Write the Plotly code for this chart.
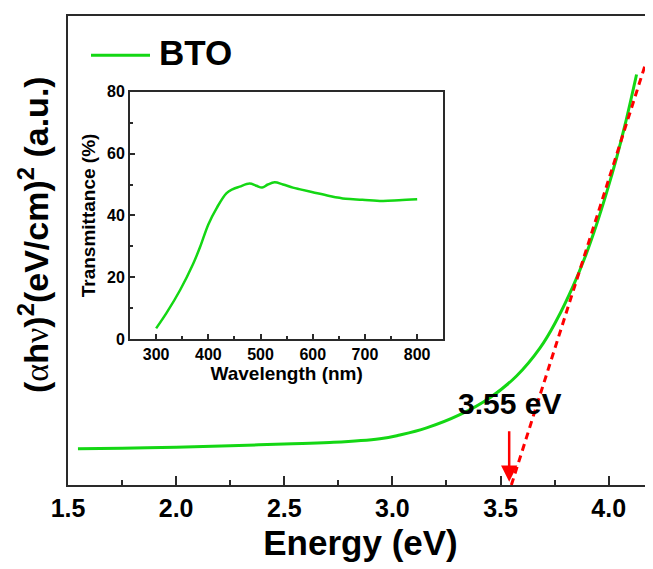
import plotly.graph_objects as go

# Main Tauc plot data
energy = [1.546, 1.75, 2.0, 2.25, 2.5, 2.71, 2.942, 3.035, 3.158, 3.312, 3.451, 3.574,
          3.682, 3.759, 3.836, 3.890, 3.944, 3.990, 4.037, 4.075, 4.129]
ahv2 = [7.7, 7.8, 8.0, 8.3, 8.7, 9.0, 9.8, 10.6, 12.1, 14.9, 18.5, 23.1,
        29.0, 34.9, 42.2, 48.2, 55.2, 61.9, 69.4, 76.2, 87.0]

# Linear fit (tangent)
fit_e = [3.55, 4.168]
fit_v = [0.0, 88.9]

# Inset transmittance data
wavelength = [300, 320, 346, 371, 384, 400, 416, 435, 447, 460, 479, 492, 503, 514,
              527, 543, 562, 574, 600, 632, 663, 695, 733, 765, 800]
transmittance = [3.5, 8.5, 15.9, 24.4, 29.7, 37.1, 42.4, 47.2, 48.5, 49.3, 50.3, 49.6,
                 49.0, 50.0, 50.7, 50.0, 49.0, 48.5, 47.5, 46.3, 45.4, 45.1, 44.7, 44.9, 45.2]

main_ticks = [1.5, 2.0, 2.5, 3.0, 3.5, 4.0]
inset_xticks = [300, 400, 500, 600, 700, 800]
inset_yticks = [0, 20, 40, 60, 80]

GREEN = "rgb(20,215,20)"
RED = "#ff0000"
AX = "#2a2a2a"
FONT = "Liberation Sans"

fig = go.Figure()
fig.add_trace(go.Scatter(x=energy, y=ahv2, mode="lines",
                         line=dict(color=GREEN, width=3, shape="spline", smoothing=1.2),
                         name="BTO", showlegend=False))
fig.add_trace(go.Scatter(x=fit_e, y=fit_v, mode="lines", line=dict(color=RED, width=3, dash="7px,5px"),
                         showlegend=False))
fig.add_trace(go.Scatter(x=wavelength, y=transmittance, mode="lines", xaxis="x2", yaxis="y2",
                         line=dict(color=GREEN, width=2.5, shape="spline"), showlegend=False))

fig.update_layout(
    width=645, height=561,
    margin=dict(l=60, r=0, t=0, b=84),
    paper_bgcolor="white", plot_bgcolor="white",
    font=dict(family=FONT, color="black"),
    xaxis=dict(range=[1.5, 4.205], tickvals=main_ticks, ticktext=[f"{v:.1f}" for v in main_ticks],
               ticks="inside", ticklen=9, tickwidth=2, tickcolor=AX,
               minor=dict(dtick=0.25, tick0=1.5, ticks="inside", ticklen=5, tickwidth=2, tickcolor=AX),
               showline=True, linewidth=2, linecolor=AX, mirror=True, showgrid=False, zeroline=False,
               tickfont=dict(size=25, family=FONT, weight="bold"),
               title=dict(text="Energy (eV)", font=dict(size=35, family=FONT, weight="bold"), standoff=9)),
    yaxis=dict(range=[0, 99.4], showticklabels=False, ticks="", showline=True, linewidth=2, linecolor=AX,
               mirror=False, showgrid=False, zeroline=False),
    xaxis2=dict(domain=[0.106, 0.6415], anchor="y2", range=[250, 850], tickvals=inset_xticks,
                ticks="inside", ticklen=5, tickwidth=1.5, tickcolor=AX,
                minor=dict(dtick=50, tick0=250, ticks="inside", ticklen=3, tickwidth=1.5, tickcolor=AX),
                showline=True, linewidth=2, linecolor=AX, mirror=True, showgrid=False, zeroline=False,
                tickfont=dict(size=16, family=FONT, weight="bold"),
                title=dict(text="Wavelength (nm)", font=dict(size=19, family=FONT, weight="bold"), standoff=2)),
    yaxis2=dict(domain=[0.3109, 0.8386], anchor="x2", range=[0, 80], tickvals=inset_yticks,
                ticks="inside", ticklen=5, tickwidth=1.5, tickcolor=AX,
                minor=dict(dtick=10, ticks="inside", ticklen=3, tickwidth=1.5, tickcolor=AX),
                showline=True, linewidth=2, linecolor=AX, mirror=True, showgrid=False, zeroline=False,
                tickfont=dict(size=16, family=FONT, weight="bold"),
                title=dict(text="Transmittance (%)", font=dict(size=19, family=FONT, weight="bold"), standoff=6)),
)

# Y axis title of main plot
fig.add_annotation(
    text="(<span style='font-family:Liberation Serif;font-weight:normal'>α</span>h<span style='font-family:Liberation Serif;font-weight:normal'>ν</span>)<sup>2</sup>(eV/cm)<sup>2</sup> (a.u.)",
    xref="paper", yref="paper", x=-0.06, y=0.535, xanchor="center", yanchor="middle",
    textangle=-90, showarrow=False, font=dict(size=34, family=FONT, weight="bold", color="black"))

# Band gap arrow and label
fig.add_annotation(x=3.54, y=0.7, ax=3.54, ay=11.7, xref="x", yref="y", axref="x", ayref="y",
                   text="", showarrow=True, arrowhead=2, arrowsize=1.3, arrowwidth=2.5, arrowcolor=RED)
fig.add_annotation(x=3.543, y=17.3, xref="x", yref="y", text="3.55 eV", showarrow=False,
                   font=dict(size=30, family=FONT, weight="bold", color="black"))

# Legend (manual)
fig.add_shape(type="line", xref="paper", yref="paper", x0=(91 - 68) / 585, x1=(150 - 68) / 585,
              y0=(485 - 48) / 477, y1=(485 - 48) / 477, line=dict(color=GREEN, width=3))
fig.add_annotation(text="BTO", xref="paper", yref="paper", x=(157 - 68) / 585, y=(485 - 45) / 477,
                   xanchor="left", yanchor="middle", showarrow=False,
                   font=dict(size=35, family=FONT, weight="bold", color="black"))

fig.write_html("out.html")
